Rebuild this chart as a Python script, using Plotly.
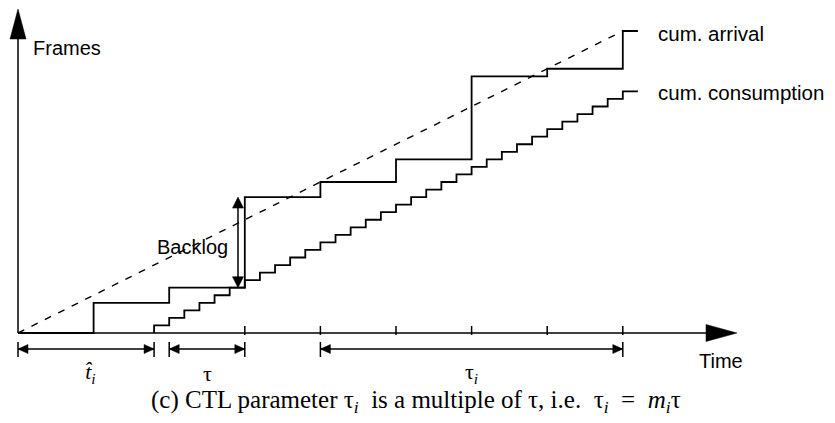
import plotly.graph_objects as go

# Time is measured in units of tau, frames in whole frames.
arrival_t = [0, 1, 2, 3, 4, 5, 6, 7, 8, 8.2]
arrival_f = [0, 4, 6, 18, 20, 23, 34, 35, 40, 40]

consumption_t = [1.8, 1.8, 2.0, 2.2, 2.4, 2.6, 2.8, 3.0, 3.2, 3.4, 3.6, 3.8,
                 4.0, 4.2, 4.4, 4.6, 4.8, 5.0, 5.2, 5.4, 5.6, 5.8, 6.0, 6.2,
                 6.4, 6.6, 6.8, 7.0, 7.2, 7.4, 7.6, 7.8, 8.0, 8.2]
consumption_f = [0, 1, 2, 3, 4, 5, 6, 7, 8, 9, 10, 11, 12, 13, 14, 15, 16, 17,
                 18, 19, 20, 21, 22, 23, 24, 25, 26, 27, 28, 29, 30, 31, 32, 32]

rate_t = [0, 8]
rate_f = [0, 40]

tick_t = [3, 4, 5, 6, 7, 8]

# dimension intervals under the time axis: (start, end, label)
spans = [
    (0, 1.8, "<i>t\u0302</i><sub><i>i</i></sub>"),
    (2, 3, "τ"),
    (4, 8, "τ<sub><i>i</i></sub>"),
]
span_label_x = [90, None, None]   # px override for the first label
backlog_t = 2.91
backlog_f = (6, 18)

# pixel scale of the drawing
W, H = 835, 423
X0, SX = 18.0, 75.6      # px of t=0, px per tau
Y0, SY = 333.0, 7.55     # px of f=0, px per frame


def tx(px):
    return (px - X0) / SX


def fy(py):
    return (Y0 - py) / SY


BLACK = "#000000"
SANS = "Liberation Sans, Arial, sans-serif"
SERIF = "Liberation Serif, Times New Roman, serif"

fig = go.Figure()

fig.add_trace(go.Scatter(x=rate_t, y=rate_f, mode="lines",
                         line=dict(color=BLACK, width=1.4, dash="7px,8px"),
                         hoverinfo="skip"))
fig.add_trace(go.Scatter(x=arrival_t, y=arrival_f, mode="lines",
                         line=dict(color=BLACK, width=1.8, shape="hv"),
                         hoverinfo="skip"))
fig.add_trace(go.Scatter(x=consumption_t, y=consumption_f, mode="lines",
                         line=dict(color=BLACK, width=1.8, shape="hv"),
                         hoverinfo="skip"))

shapes = []


def line(x0, y0, x1, y1, w=1.5):
    shapes.append(dict(type="line", xref="x", yref="y", x0=x0, y0=y0,
                       x1=x1, y1=y1, line=dict(color=BLACK, width=w)))


def tri(pts):
    d = "M " + " L ".join(f"{x},{y}" for x, y in pts) + " Z"
    shapes.append(dict(type="path", xref="x", yref="y", path=d,
                       fillcolor=BLACK, line=dict(color=BLACK, width=0.5)))


def head_h(tip_t, f, direction, length_px, half_px):
    # horizontal arrowhead; direction +1 points right, -1 points left
    base = tip_t - direction * length_px / SX
    h = half_px / SY
    tri([(tip_t, f), (base, f + h), (base, f - h)])


def head_v(t, tip_f, direction, length_px, half_px):
    # vertical arrowhead; direction +1 points up, -1 points down
    base = tip_f - direction * length_px / SY
    w = half_px / SX
    tri([(t, tip_f), (t - w, base), (t + w, base)])


# axes with arrow tips
line(0, 0, 0, fy(36))
head_v(0, fy(9), +1, 30, 8)
line(0, 0, tx(708), 0)
head_h(tx(737), 0, +1, 31, 8.5)

# axis ticks
for t in tick_t:
    line(t, fy(335), t, fy(326), 1.5)

# interval markers under the axis
dim_f = fy(349)
for t0, t1, _ in spans:
    line(t0, dim_f, t1, dim_f, 1.5)
    line(t0, fy(342), t0, fy(357), 1.5)
    line(t1, fy(342), t1, fy(357), 1.5)
    head_h(t0, dim_f, -1, 10, 4.5)
    head_h(t1, dim_f, +1, 10, 4.5)

# backlog double arrow
line(backlog_t, backlog_f[0] + 1.0, backlog_t, backlog_f[1] - 1.0, 1.5)
head_v(backlog_t, backlog_f[1], +1, 11, 5.5)
head_v(backlog_t, backlog_f[0], -1, 11, 5.5)

ann = []


def text(x, y, s, font, size, xanchor="left", yanchor="middle"):
    ann.append(dict(x=x, y=y, xref="x", yref="y", text=s, showarrow=False,
                    xanchor=xanchor, yanchor=yanchor,
                    font=dict(family=font, size=size, color=BLACK)))


text(tx(31), fy(48), "Frames", SANS, 20)
text(tx(697), fy(361), "Time", SANS, 20)
text(tx(656), fy(33), "cum. arrival", SANS, 20.5)
text(tx(656), fy(92), "cum. consumption", SANS, 20.5)
text(tx(230), fy(247), "Backlog", SANS, 20, xanchor="right")

# interval labels
for (t0, t1, label), px in zip(spans, span_label_x):
    xc = tx(px) if px is not None else (t0 + t1) / 2
    text(xc, fy(373), label, SERIF, 22, xanchor="center")

caption = ("(c) CTL parameter τ<sub><i>i</i></sub>\u00a0 is a multiple of τ, i.e.\u00a0 "
           "τ<sub><i>i</i></sub>\u00a0 =\u00a0 <i>m</i><sub><i>i</i></sub>τ")
text(tx(416), fy(401), caption, SERIF, 25, xanchor="center")

fig.update_layout(
    width=W, height=H,
    margin=dict(l=0, r=0, t=0, b=0),
    paper_bgcolor="white", plot_bgcolor="white",
    showlegend=False,
    shapes=shapes, annotations=ann,
    xaxis=dict(range=[tx(0), tx(W)], visible=False, fixedrange=True),
    yaxis=dict(range=[fy(H), fy(0)], visible=False, fixedrange=True),
)

fig.write_html("out.html", config={"displayModeBar": False})
